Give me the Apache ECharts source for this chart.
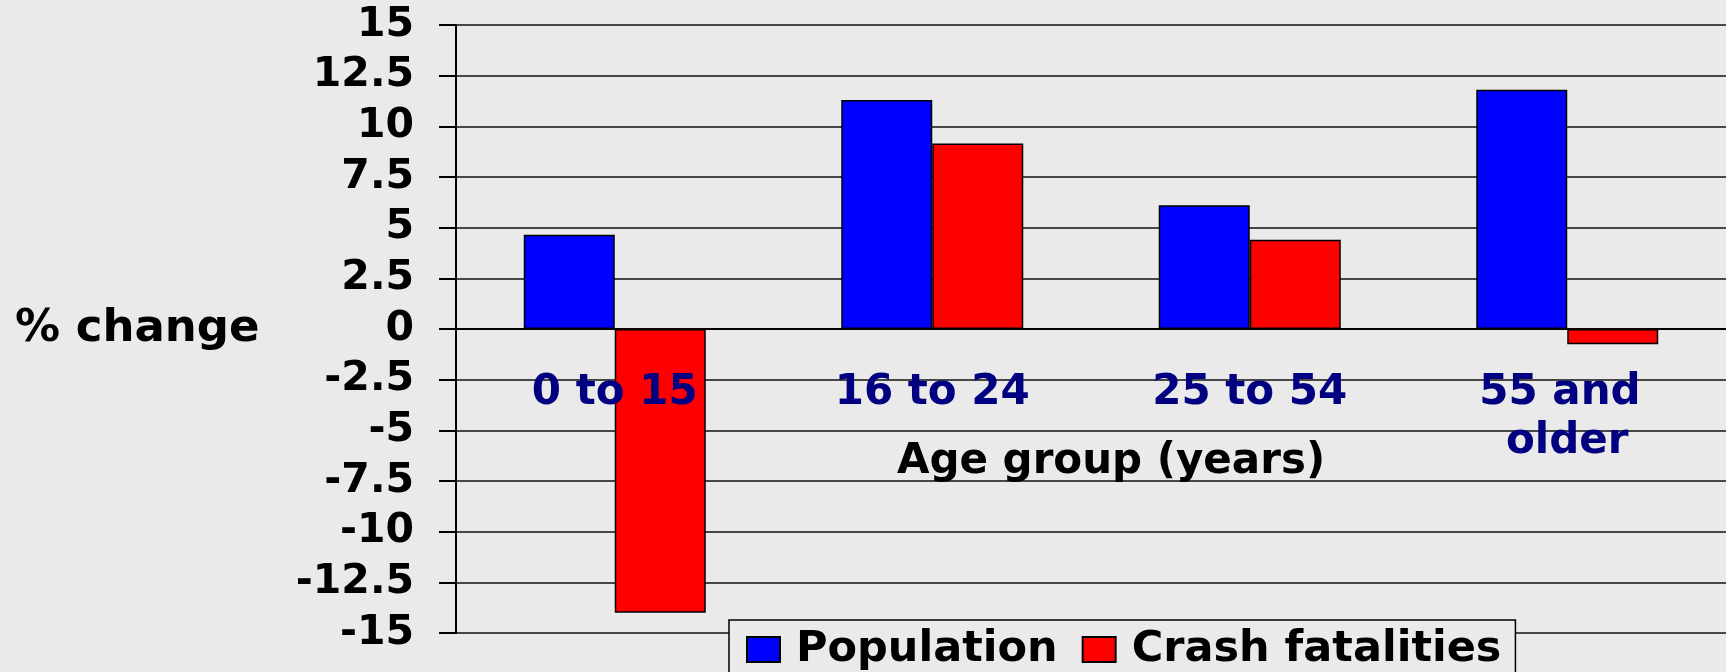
<!DOCTYPE html>
<html>
<head>
<meta charset="utf-8">
<title>% change by age group</title>
<script src="https://cdn.jsdelivr.net/npm/echarts@6/dist/echarts.min.js"></script>
<style>
  html, body { margin: 0; padding: 0; background: #eaeaea; }
  #chart { width: 1726px; height: 672px; }
</style>
</head>
<body>
<div id="chart"></div>
<script>
// age groups on the x axis
const categories = ['0 to 15', '16 to 24', '25 to 54', '55 and older']
// % change values
const population = [4.65, 11.3, 6.1, 11.8]
const fatalities = [-14.0, 9.15, 4.4, -0.75]
// y axis range and step
const yMin = -15
const yMax = 15
const yStep = 2.5

const font = 'DejaVu Sans'

// plot box, the category axis is lifted from the bottom up to the 0 line
const gridTop = 25
const gridBottom = 39
const plotHeight = 672 - gridTop - gridBottom
const zeroOffset = -plotHeight * (0 - yMin) / (yMax - yMin)

const option = {
  backgroundColor: '#eaeaea',
  animation: false,
  title: {
    text: '% change',
    left: 15,
    top: 307,
    padding: 0,
    textStyle: { fontFamily: font, fontWeight: 'bold', fontSize: 45, color: '#000' }
  },
  legend: {
    left: 729,
    top: 620,
    padding: [8, 14, 40, 17],
    itemWidth: 33,
    itemHeight: 25,
    itemGap: 24,
    icon: 'rect',
    backgroundColor: '#eaeaea',
    borderColor: '#000',
    borderWidth: 1.5,
    borderRadius: 0,
    textStyle: {
      fontFamily: font, fontWeight: 'bold', fontSize: 43, color: '#000',
      lineHeight: 42, padding: [0, 0, 0, 11]
    },
    data: ['Population', 'Crash fatalities']
  },
  grid: {
    left: 456,
    right: 0,
    top: gridTop,
    bottom: gridBottom,
    containLabel: false,
    outerBoundsMode: 'none'
  },
  xAxis: {
    type: 'category',
    data: categories,
    offset: zeroOffset,
    z: 5,
    name: 'Age group (years)',
    nameLocation: 'middle',
    nameGap: 112,
    nameMoveOverlap: false,
    nameTextStyle: {
      fontFamily: font, fontWeight: 'bold', fontSize: 42, color: '#000',
      padding: [0, 0, 0, 40]
    },
    axisLine: { onZero: false, lineStyle: { color: '#000', width: 2 } },
    axisTick: { show: false },
    axisLabel: {
      margin: 40,
      interval: 0,
      width: 240,
      overflow: 'break',
      lineHeight: 49,
      fontFamily: font, fontWeight: 'bold', fontSize: 42, color: '#000080'
    }
  },
  yAxis: {
    type: 'value',
    min: yMin,
    max: yMax,
    interval: yStep,
    axisLine: { show: true, lineStyle: { color: '#000', width: 2 } },
    axisTick: { show: true, length: 17, lineStyle: { color: '#000', width: 2 } },
    axisLabel: {
      margin: 42,
      showMinLabel: true,
      showMaxLabel: true,
      fontFamily: font, fontWeight: 'bold', fontSize: 41, color: '#000'
    },
    splitLine: { show: true, lineStyle: { color: '#111', width: 1.6 } }
  },
  series: [
    {
      name: 'Population',
      type: 'bar',
      data: population,
      barWidth: 91,
      barGap: '0%',
      itemStyle: { color: '#0000ff', borderColor: '#000', borderWidth: 1.5 }
    },
    {
      name: 'Crash fatalities',
      type: 'bar',
      data: fatalities,
      barWidth: 91,
      barGap: '0%',
      itemStyle: { color: '#ff0000', borderColor: '#000', borderWidth: 1.5 }
    }
  ]
}

const chart = echarts.init(document.getElementById('chart'))
chart.setOption(option)
</script>
</body>
</html>
